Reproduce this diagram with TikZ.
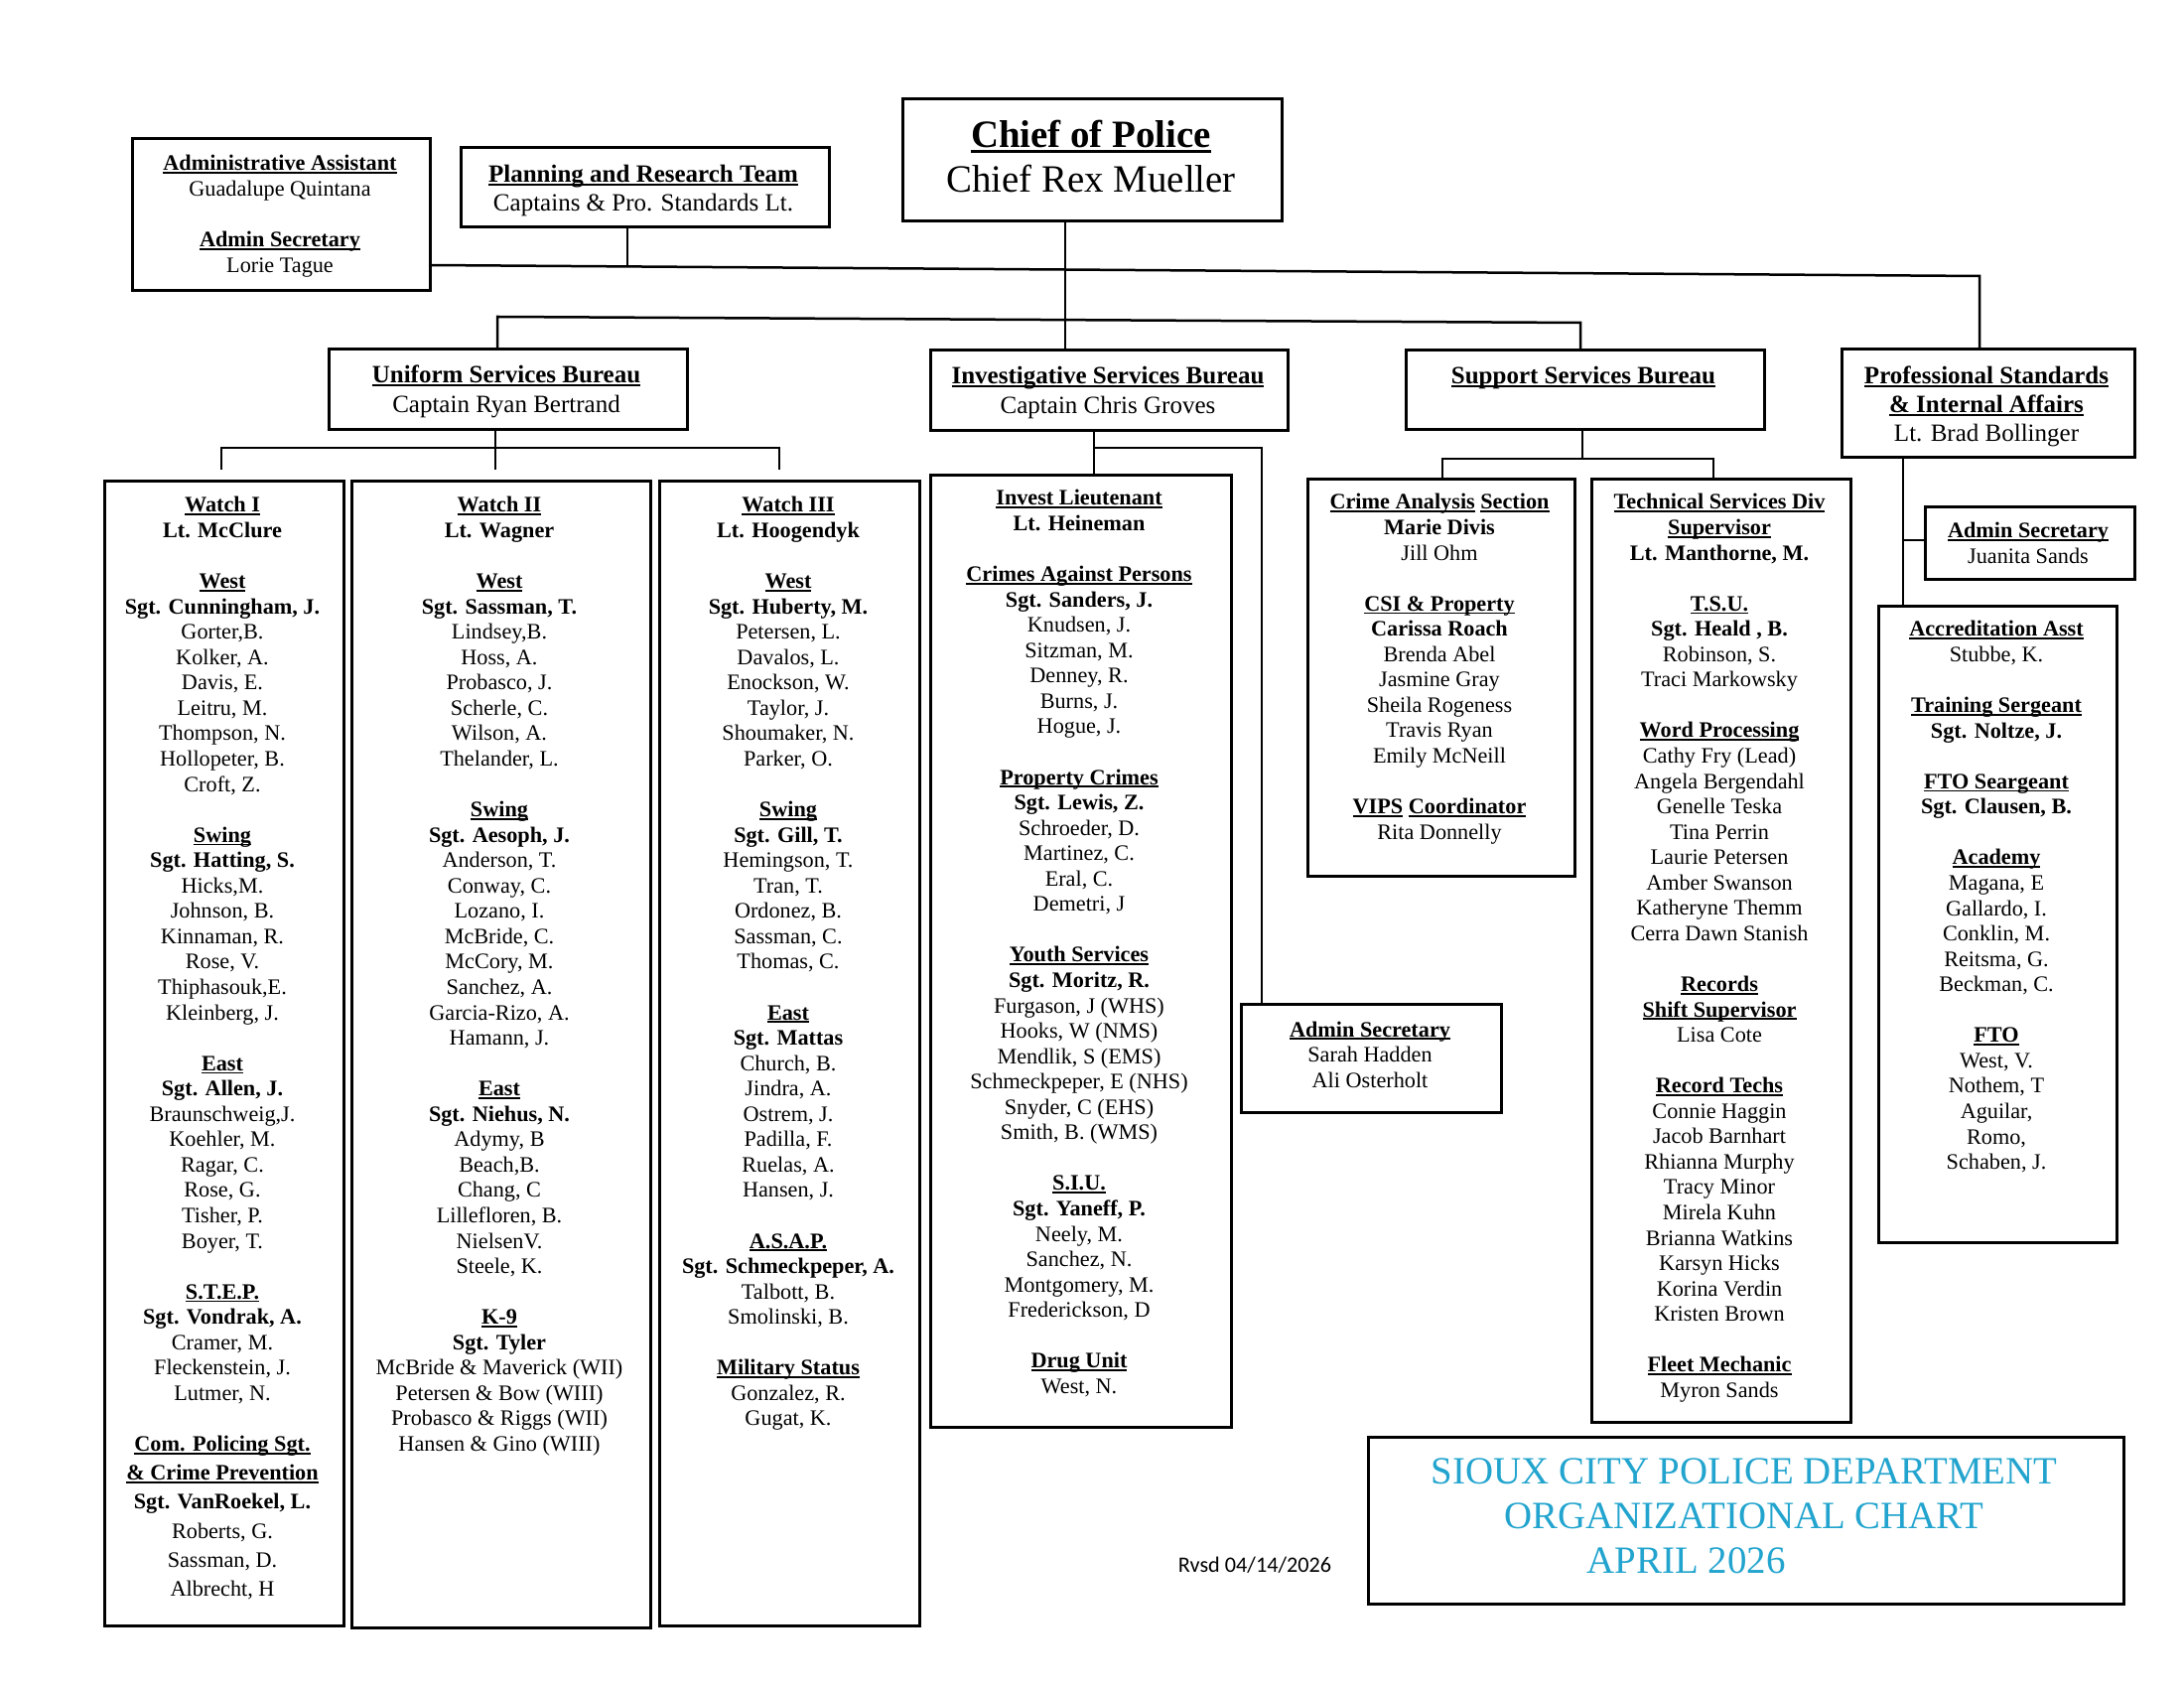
\documentclass[tikz,border=0pt]{standalone}
\usepackage{fontspec}
\setmainfont{Liberation Serif}
\newfontfamily\rvsdfont{Carlito}
\definecolor{titlecyan}{RGB}{34,164,206}
\newcommand\ulx[1]{\setbox0\hbox{#1}\rlap{\rule[-0.14em]{\wd0}{0.08em}}\box0\relax}
\newcommand\U[1]{\textbf{\ulx{#1}}}
\newcommand\fsz[2]{\fontsize{#1}{#2}\selectfont}
\newcommand\col[1]{\begin{tabular}[t]{@{}c@{}}#1\end{tabular}}
\newcommand\bx[5]{\node[box,minimum width={(#4-#2)*0.36pt},minimum height={(#5-#3)*0.36pt}] (#1) at (#2,#3) {};}
\begin{document}
\begin{tikzpicture}[x=0.36pt,y=-0.36pt,
  box/.style={draw,line width=1.1pt,inner sep=0pt,anchor=north west},
  conn/.style={line width=0.9pt},
  txt/.style={inner sep=0pt,anchor=base}]
\useasboundingbox (0,0) rectangle (2200,1700);
% boxes
\bx{admin}{132}{138}{432}{291}
\bx{plan}{463}{147}{834}{227}
\bx{chief}{908}{98}{1290}{221}
\bx{usb}{330}{350}{691}{431}
\bx{isb}{936}{351}{1296}{432}
\bx{ssb}{1415}{351}{1776}{431}
\bx{psb}{1854}{350}{2149}{459}
\bx{wone}{104}{483}{345}{1636}
\bx{wtwo}{353}{483}{654}{1638}
\bx{wthree}{663}{483}{925}{1636}
\bx{inv}{936}{477}{1239}{1436}
\bx{isbsec}{1249}{1010}{1511}{1119}
\bx{cas}{1316}{481}{1585}{881}
\bx{tsd}{1602}{481}{1863}{1431}
\bx{pssec}{1938}{509}{2149}{582}
\bx{acc}{1891}{609}{2131}{1250}
\bx{title}{1377}{1446}{2138}{1614}
% connector coordinates
\coordinate (barAL) at (432,267);
\coordinate (barAR) at (1994,278);
\coordinate (planfoot) at (632,268.4);
\coordinate (chiefx) at (1073,0);
\coordinate (barBL) at (501,319);
\coordinate (barBR) at (1592,325);
\coordinate (wj) at (499,451);
\coordinate (wL) at (223,451);
\coordinate (wR) at (785,451);
\coordinate (tL) at (223,473);
\coordinate (tM) at (499,473);
\coordinate (tR) at (785,473);
\coordinate (ij) at (1102,451);
\coordinate (ik) at (1271,451);
\coordinate (sj) at (1594,462);
\coordinate (sL) at (1453,462);
\coordinate (sR) at (1726,462);
\coordinate (px) at (1917,544);
% connectors
\draw[conn] (barAL) -- (barAR) -- (barAR |- psb.north);
\draw[conn] (plan.south -| planfoot) -- (planfoot);
\draw[conn] (chief.south -| chiefx) -- (isb.north -| chiefx);
\draw[conn] (usb.north -| barBL) -- (barBL) -- (barBR) -- (ssb.north -| barBR);
\draw[conn] (usb.south -| wj) -- (wj);
\draw[conn] (tL) -- (wL) -- (wR) -- (tR);
\draw[conn] (wj) -- (tM);
\draw[conn] (isb.south -| ij) -- (inv.north -| ij);
\draw[conn] (ij) -- (ik) -- (isbsec.north -| ik);
\draw[conn] (ssb.south -| sj) -- (sj);
\draw[conn] (cas.north -| sL) -- (sL) -- (sR) -- (tsd.north -| sR);
\draw[conn] (psb.south -| px) -- (acc.north -| px);
\draw[conn] (px) -- (pssec.west |- px);
% texts
\node[txt] (admintx) at (282,172) {\fsz{8}{9.2}\col{\U{Administrative Assistant}\\ Guadalupe Quintana\\ \\ \U{Admin Secretary}\\ Lorie Tague}};
\node[txt] (plantx) at (648,184) {\fsz{9}{10.1}\col{\U{Planning and Research Team}\\ Captains \& Pro. Standards Lt.}};
\node[txt] (chieftx) at (1099,149) {\fsz{14}{16.2}\col{\U{Chief of Police}\\ Chief Rex Mueller}};
\node[txt] (usbtx) at (510,386) {\fsz{9}{10.8}\col{\U{Uniform Services Bureau}\\ Captain Ryan Bertrand}};
\node[txt] (isbtx) at (1116,387) {\fsz{9}{10.8}\col{\U{Investigative Services Bureau}\\ Captain Chris Groves}};
\node[txt] (ssbtx) at (1595,387) {\fsz{9}{10.8}\col{\U{Support Services Bureau}}};
\node[txt] (psbtx) at (2001,387) {\fsz{9}{10.4}\col{\U{Professional Standards}\\ \U{\& Internal Affairs}\\ Lt. Brad Bollinger}};
\node[txt] (pssectx) at (2043,542) {\fsz{8}{9.2}\col{\U{Admin Secretary}\\ Juanita Sands}};
\node[txt] (isbsectx) at (1380,1044) {\fsz{8}{9.2}\col{\U{Admin Secretary}\\ Sarah Hadden\\ Ali Osterholt}};
\node[txt] (wonetx) at (224,516) {\fsz{8}{9.2}\col{\U{Watch I}\\ \textbf{Lt. McClure}\\ \\
\U{West}\\ \textbf{Sgt. Cunningham, J.}\\ Gorter,B.\\ Kolker, A.\\ Davis, E.\\ Leitru, M.\\ Thompson, N.\\ Hollopeter, B.\\ Croft, Z.\\ \\
\U{Swing}\\ \textbf{Sgt. Hatting, S.}\\ Hicks,M.\\ Johnson, B.\\ Kinnaman, R.\\ Rose, V.\\ Thiphasouk,E.\\ Kleinberg, J.\\ \\
\U{East}\\ \textbf{Sgt. Allen, J.}\\ Braunschweig,J.\\ Koehler, M.\\ Ragar, C.\\ Rose, G.\\ Tisher, P.\\ Boyer, T.\\ \\
\U{S.T.E.P.}\\ \textbf{Sgt. Vondrak, A.}\\ Cramer, M.\\ Fleckenstein, J.\\ Lutmer, N.\\ \\
\U{Com. Policing Sgt.}\\[1.3pt] \U{\& Crime Prevention}\\[1.3pt] \textbf{Sgt. VanRoekel, L.}\\[1.3pt] Roberts, G.\\[1.3pt] Sassman, D.\\[1.3pt] Albrecht, H}};
\node[txt] (wtwotx) at (503,516) {\fsz{8}{9.2}\col{\U{Watch II}\\ \textbf{Lt. Wagner}\\ \\
\U{West}\\ \textbf{Sgt. Sassman, T.}\\ Lindsey,B.\\ Hoss, A.\\ Probasco, J.\\ Scherle, C.\\ Wilson, A.\\ Thelander, L.\\ \\
\U{Swing}\\ \textbf{Sgt. Aesoph, J.}\\ Anderson, T.\\ Conway, C.\\ Lozano, I.\\ McBride, C.\\ McCory, M.\\ Sanchez, A.\\ Garcia-Rizo, A.\\ Hamann, J.\\ \\
\U{East}\\ \textbf{Sgt. Niehus, N.}\\ Adymy, B\\ Beach,B.\\ Chang, C\\ Lillefloren, B.\\ NielsenV.\\ Steele, K.\\ \\
\U{K-9}\\ \textbf{Sgt. Tyler}\\ McBride \& Maverick (WII)\\ Petersen \& Bow (WIII)\\ Probasco \& Riggs (WII)\\ Hansen \& Gino (WIII)}};
\node[txt] (wthreetx) at (794,516) {\fsz{8}{9.2}\col{\U{Watch III}\\ \textbf{Lt. Hoogendyk}\\ \\
\U{West}\\ \textbf{Sgt. Huberty, M.}\\ Petersen, L.\\ Davalos, L.\\ Enockson, W.\\ Taylor, J.\\ Shoumaker, N.\\ Parker, O.\\ \\
\U{Swing}\\ \textbf{Sgt. Gill, T.}\\ Hemingson, T.\\ Tran, T.\\ Ordonez, B.\\ Sassman, C.\\ Thomas, C.\\ \\
\U{East}\\ \textbf{Sgt. Mattas}\\ Church, B.\\ Jindra, A.\\ Ostrem, J.\\ Padilla, F.\\ Ruelas, A.\\ Hansen, J.\\ \\
\U{A.S.A.P.}\\ \textbf{Sgt. Schmeckpeper, A.}\\ Talbott, B.\\ Smolinski, B.\\ \\
\U{Military Status}\\ Gonzalez, R.\\ Gugat, K.}};
\node[txt] (invtx) at (1087,509) {\fsz{8}{9.2}\col{\U{Invest Lieutenant}\\ \textbf{Lt. Heineman}\\ \\
\U{Crimes Against Persons}\\ \textbf{Sgt. Sanders, J.}\\ Knudsen, J.\\ Sitzman, M.\\ Denney, R.\\ Burns, J.\\ Hogue, J.\\ \\
\U{Property Crimes}\\ \textbf{Sgt. Lewis, Z.}\\ Schroeder, D.\\ Martinez, C.\\ Eral, C.\\ Demetri, J\\ \\
\U{Youth Services}\\ \textbf{Sgt. Moritz, R.}\\ Furgason, J (WHS)\\ Hooks, W (NMS)\\ Mendlik, S (EMS)\\ Schmeckpeper, E (NHS)\\ Snyder, C (EHS)\\ Smith, B. (WMS)\\ \\
\U{S.I.U.}\\ \textbf{Sgt. Yaneff, P.}\\ Neely, M.\\ Sanchez, N.\\ Montgomery, M.\\ Frederickson, D\\ \\
\U{Drug Unit}\\ West, N.}};
\node[txt] (castx) at (1450,513) {\fsz{8}{9.2}\col{\textbf{\ulx{Crime Analysis} \ulx{Section}}\\ \textbf{Marie Divis}\\ Jill Ohm\\ \\
\U{CSI \& Property}\\ \textbf{Carissa Roach}\\ Brenda Abel\\ Jasmine Gray\\ Sheila Rogeness\\ Travis Ryan\\ Emily McNeill\\ \\
\textbf{\ulx{VIPS} \ulx{Coordinator}}\\ Rita Donnelly}};
\node[txt] (tsdtx) at (1732,513) {\fsz{8}{9.2}\col{\U{Technical Services Div}\\ \U{Supervisor}\\ \textbf{Lt. Manthorne, M.}\\ \\
\U{T.S.U.}\\ \textbf{Sgt. Heald , B.}\\ Robinson, S.\\ Traci Markowsky\\ \\
\U{Word Processing}\\ Cathy Fry (Lead)\\ Angela Bergendahl\\ Genelle Teska\\ Tina Perrin\\ Laurie Petersen\\ Amber Swanson\\ Katheryne Themm\\ Cerra Dawn Stanish\\ \\
\U{Records}\\ \U{Shift Supervisor}\\ Lisa Cote\\ \\
\U{Record Techs}\\ Connie Haggin\\ Jacob Barnhart\\ Rhianna Murphy\\ Tracy Minor\\ Mirela Kuhn\\ Brianna Watkins\\ Karsyn Hicks\\ Korina Verdin\\ Kristen Brown\\ \\
\U{Fleet Mechanic}\\ Myron Sands}};
\node[txt] (acctx) at (2011,641) {\fsz{8}{9.2}\col{\U{Accreditation Asst}\\ Stubbe, K.\\ \\
\U{Training Sergeant}\\ \textbf{Sgt. Noltze, J.}\\ \\
\U{FTO Seargeant}\\ \textbf{Sgt. Clausen, B.}\\ \\
\U{Academy}\\ Magana, E\\ Gallardo, I.\\ Conklin, M.\\ Reitsma, G.\\ Beckman, C.\\ \\
\U{FTO}\\ West, V.\\ Nothem, T\\ Aguilar,\\ Romo,\\ Schaben, J.}};
\node[txt,text=titlecyan] (titletx) at (1757,1494) {\fsz{14}{16.2}\col{SIOUX CITY POLICE DEPARTMENT\\ ORGANIZATIONAL CHART\\ APRIL 2026\kern42pt}};
\node[txt] (rvsd) at (1264,1583) {\rvsdfont\fontsize{8}{9.6}\selectfont Rvsd 04/14/2026};
\end{tikzpicture}
\end{document}
